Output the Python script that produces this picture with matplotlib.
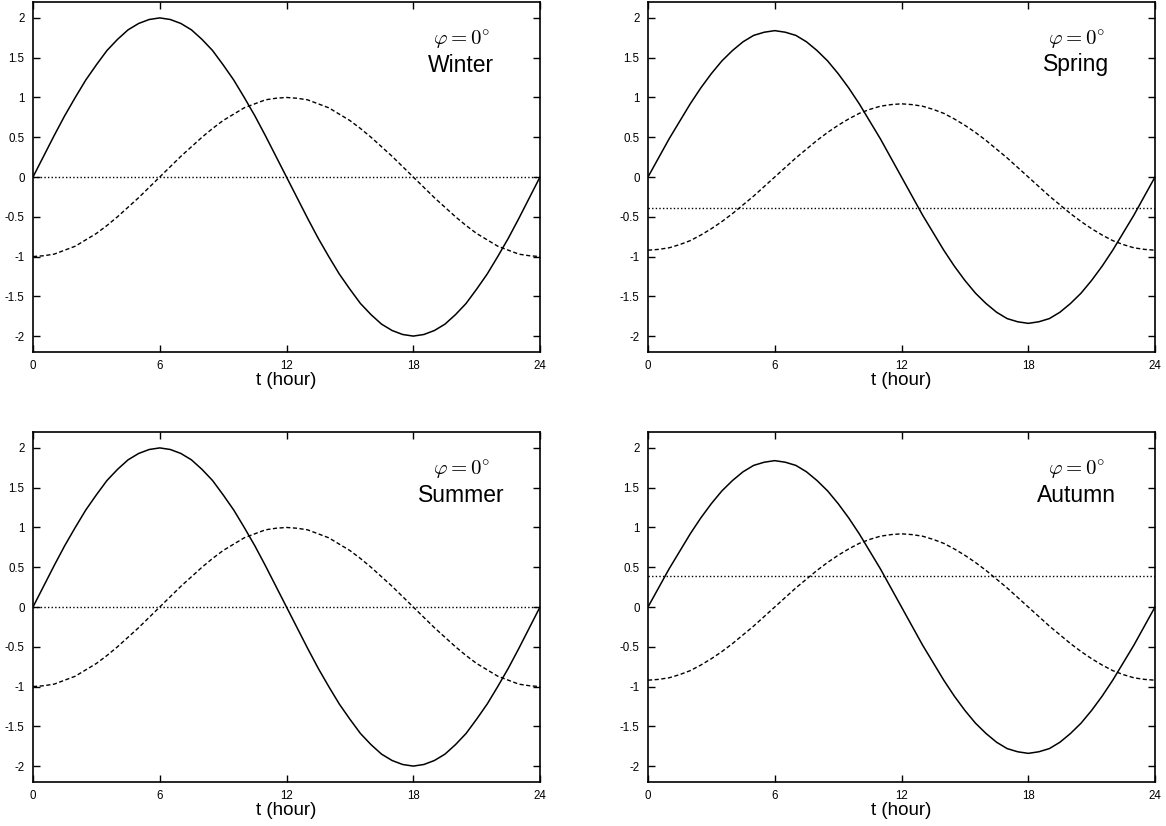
import matplotlib
matplotlib.use("Agg")
import matplotlib.pyplot as plt

plt.rcParams['font.family'] = ['Liberation Sans', 'DejaVu Sans']
plt.rcParams['mathtext.fontset'] = 'cm'

# time axis (hours), half-hour steps
t = [i * 0.5 for i in range(49)]

winter_solid = [0, 0.26, 0.52, 0.77, 1.0, 1.22, 1.41, 1.59, 1.73, 1.85, 1.93, 1.98, 2.0,
                1.98, 1.93, 1.85, 1.73, 1.59, 1.41, 1.22, 1.0, 0.77, 0.52, 0.26, 0,
                -0.26, -0.52, -0.77, -1.0, -1.22, -1.41, -1.59, -1.73, -1.85, -1.93, -1.98, -2.0,
                -1.98, -1.93, -1.85, -1.73, -1.59, -1.41, -1.22, -1.0, -0.77, -0.52, -0.26, 0]
winter_dashed = [-1, -0.99, -0.97, -0.92, -0.87, -0.79, -0.71, -0.61, -0.5, -0.38, -0.26, -0.13, 0,
                 0.13, 0.26, 0.38, 0.5, 0.61, 0.71, 0.79, 0.87, 0.92, 0.97, 0.99, 1.0,
                 0.99, 0.97, 0.92, 0.87, 0.79, 0.71, 0.61, 0.5, 0.38, 0.26, 0.13, 0,
                 -0.13, -0.26, -0.38, -0.5, -0.61, -0.71, -0.79, -0.87, -0.92, -0.97, -0.99, -1.0]
spring_solid = [0, 0.24, 0.48, 0.70, 0.92, 1.12, 1.30, 1.46, 1.59, 1.70, 1.78, 1.82, 1.84,
                1.82, 1.78, 1.70, 1.59, 1.46, 1.30, 1.12, 0.92, 0.70, 0.48, 0.24, 0,
                -0.24, -0.48, -0.70, -0.92, -1.12, -1.30, -1.46, -1.59, -1.70, -1.78, -1.82, -1.84,
                -1.82, -1.78, -1.70, -1.59, -1.46, -1.30, -1.12, -0.92, -0.70, -0.48, -0.24, 0]
spring_dashed = [-0.92, -0.91, -0.89, -0.85, -0.80, -0.73, -0.65, -0.56, -0.46, -0.35, -0.24, -0.12, 0,
                 0.12, 0.24, 0.35, 0.46, 0.56, 0.65, 0.73, 0.80, 0.85, 0.89, 0.91, 0.92,
                 0.91, 0.89, 0.85, 0.80, 0.73, 0.65, 0.56, 0.46, 0.35, 0.24, 0.12, 0,
                 -0.12, -0.24, -0.35, -0.46, -0.56, -0.65, -0.73, -0.80, -0.85, -0.89, -0.91, -0.92]

seasons = ["Winter", "Spring", "Summer", "Autumn"]
solid_series = [winter_solid, spring_solid, winter_solid, spring_solid]
dashed_series = [winter_dashed, spring_dashed, winter_dashed, spring_dashed]
dotted_levels = [0.0, -0.39, 0.0, 0.39]
xticks = [0, 6, 12, 18, 24]
yticks = [-2, -1.5, -1, -0.5, 0, 0.5, 1, 1.5, 2]
yticklabels = ["-2", "-1.5", "-1", "-0.5", "0", "0.5", "1", "1.5", "2"]

W, H = 1166, 826
fig = plt.figure(figsize=(W / 100, H / 100), dpi=100)

lefts = [33, 648]
tops = [2, 432]
aw, ah = 507, 350

for i, season in enumerate(seasons):
    r, c = divmod(i, 2)
    x0 = lefts[c] / W
    y0 = 1 - (tops[r] + ah) / H
    ax = fig.add_axes([x0, y0, aw / W, ah / H])
    ax.plot(t, solid_series[i], color='black', lw=1.1, linestyle='-')
    ax.plot(t, dashed_series[i], color='black', lw=1.0, linestyle=(0, (3, 1.8)))
    ax.plot([0, 24], [dotted_levels[i], dotted_levels[i]], color='black', lw=1.0,
            linestyle=(0, (1, 1.6)))
    ax.set_xlim(0, 24)
    ax.set_ylim(-2.2, 2.2)
    ax.set_xticks(xticks)
    ax.set_xticklabels([str(v) for v in xticks])
    ax.set_yticks(yticks)
    ax.set_yticklabels(yticklabels)
    ax.tick_params(direction='in', top=True, right=True, length=5, width=1,
                   labelsize=8.3, pad=6)
    for sp in ax.spines.values():
        sp.set_linewidth(1.2)
    ax.set_xlabel("t (hour)", fontsize=13.5, labelpad=0)
    ax.text(0.845, 0.89, r"$\varphi = 0^{\circ}$", transform=ax.transAxes,
            ha='center', va='center', fontsize=15)
    ax.text(0.845, 0.82, season, transform=ax.transAxes,
            ha='center', va='center', fontsize=16.5)

fig.savefig("out.png", dpi=100)
